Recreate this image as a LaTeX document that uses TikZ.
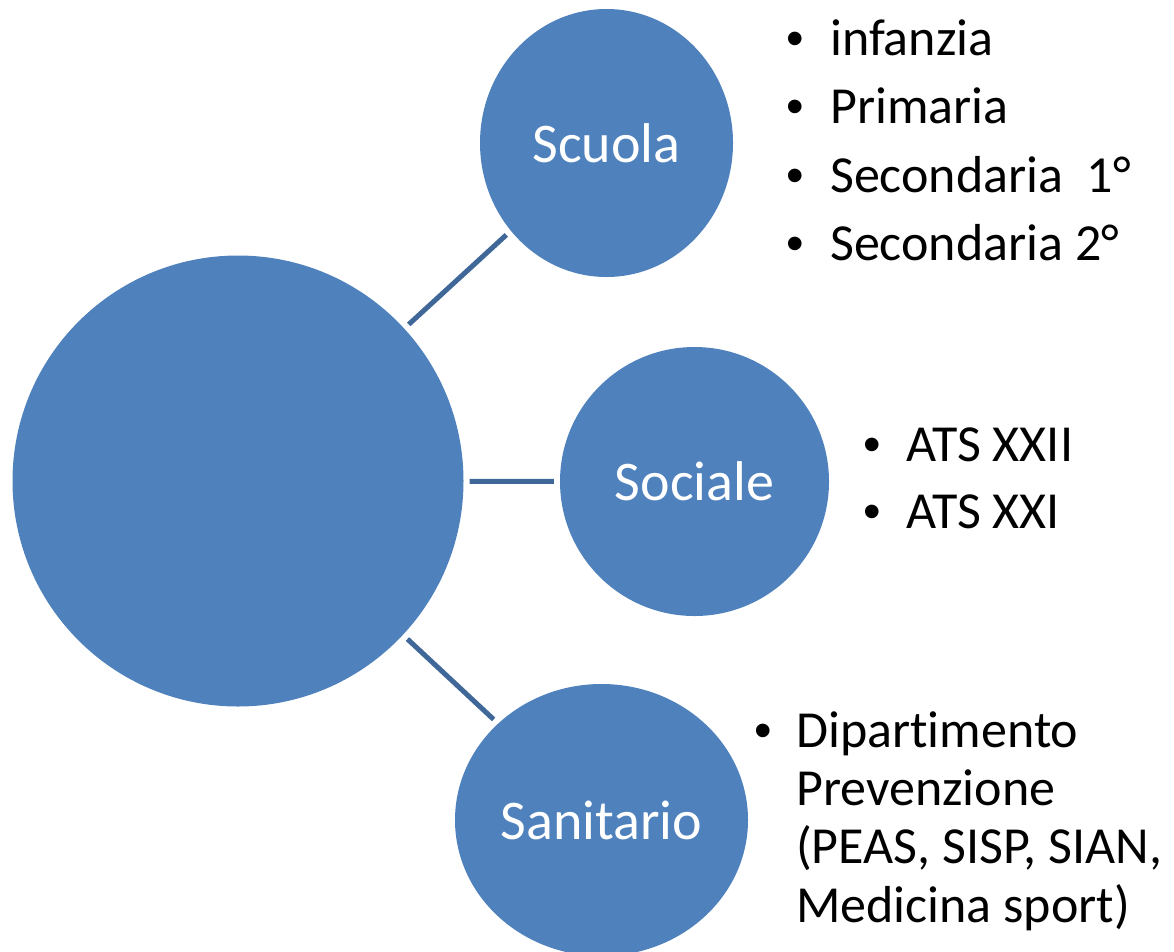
\documentclass[tikz,border=0pt]{standalone}
\usepackage{fontspec}
\setmainfont{Carlito}[Ligatures={NoCommon}]
\newfontfamily\bulletfont{Liberation Sans}
\usepackage{tikz}
\usetikzlibrary{shapes.geometric}
\definecolor{areablue}{HTML}{4F81BD}
\definecolor{linkblue}{HTML}{3F6899}
\tikzset{area/.style = {shape=ellipse,fill=areablue,text=white,inner sep=0pt,
  font=\fontsize{56}{67}\selectfont}}
\tikzset{link/.style = {draw=linkblue,line width=5pt,shorten <=6pt,shorten >=6pt}}
\tikzset{item/.style = {anchor=base west,inner sep=0pt,font=\fontsize{52}{58.3}\selectfont}}
\tikzset{dot/.style = {anchor=base,inner sep=0pt,font=\bulletfont\fontsize{50}{58.3}\selectfont}}

\begin{document}
\begin{tikzpicture}[x=1pt,y=-1pt]
                    \useasboundingbox (0,0) rectangle (1174,951);
                    \node[area,minimum width=451pt,minimum height=451pt] (C) at (238,481) {};
                    \node[area,minimum width=253pt,minimum height=268pt] (Sc) at (606.5,143) {Scuola};
                    \node[area,minimum width=269pt,minimum height=269pt] (So) at (694.5,481.5) {Sociale};
                    \node[area,minimum width=293pt,minimum height=272pt] (Sa) at (601.5,820) {Sanitario};

                    \draw[link] (C) -- (Sc);
                    \draw[link] (C) -- (So);
                    \draw[link] (C) -- (Sa);

                    % Scuola
                    \node[dot] (b1) at (795,55) {•};
                    \node[item] (Sc1) at (830,55) {infanzia};
                    \node[dot] (b2) at (795,123.5) {•};
                    \node[item] (Sc2) at (830,123.5) {Primaria};
                    \node[dot] (b3) at (795,192) {•};
                    \node[item] (Sc3) at (830,192) {Secondaria\ \ 1°};
                    \node[dot] (b4) at (795,260) {•};
                    \node[item] (Sc4) at (830,260) {Secondaria 2°};

                    % Sociale
                    \node[dot] (b5) at (872,461) {•};
                    \node[item] (So1) at (906,461) {ATS XXII};
                    \node[dot] (b6) at (872,528) {•};
                    \node[item] (So2) at (906,528) {ATS XXI};

                    % Sanitario (base is the last line)
                    \node[dot] (b7) at (763,747) {•};
                    \node[item,align=left] (Sa1) at (796,922) {Dipartimento\\Prevenzione\\(PEAS, SISP, SIAN,\\Medicina sport)};
                \end{tikzpicture}
\end{document}
